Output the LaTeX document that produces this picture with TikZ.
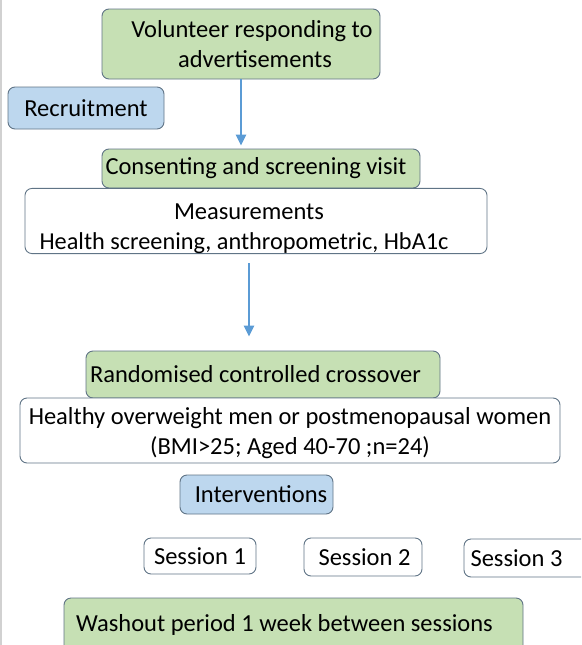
\documentclass[tikz,border=0pt]{standalone}
\usepackage{fontspec}
\setmainfont{Carlito}
\usepackage{tikz}
\usetikzlibrary{arrows.meta}

\definecolor{boxgreen}{RGB}{198,224,180}
\definecolor{boxblue}{RGB}{189,215,238}
\definecolor{boxline}{RGB}{96,116,134}
\definecolor{flowblue}{RGB}{91,155,213}

\begin{document}
\begin{tikzpicture}[x=1pt,y=-1pt,
  every node/.style = {shape=rectangle, rounded corners=7pt,
    draw=boxline, line width=0.9pt, inner sep=0pt, align=center,
    font=\fontsize{24.5}{30}\selectfont},
  stage/.style = {fill=boxgreen},
  label/.style = {fill=boxblue},
  info/.style = {fill=white},
  flow/.style = {draw=flowblue, line width=2.8pt,
    -{Triangle[width=10pt,length=11pt]}}]
  \useasboundingbox (0,0) rectangle (581,645);
  \clip (0,0) rectangle (581,645);
  \fill[black!18] (0,0) rectangle (2,645);

  \node[stage, minimum width=278, minimum height=70] (volunteer) at (241,44)
    {\hspace*{22pt}Volunteer responding to\\\hspace*{28pt}advertisements};
  \node[label, minimum width=156, minimum height=42] (recruit) at (86,108)
    {Recruitment};
  \node[stage, minimum width=318, minimum height=39] (consent) at (261,168.5)
    {Consenting and screening visit\hspace*{10pt}};
  \node[info, minimum width=462, minimum height=64] (measure) at (256,221)
    {\rule{0pt}{31pt}Measurements\hspace*{14pt}\\
     {\fontsize{24.3}{30}\selectfont Health screening, anthropometric, HbA1c}\hspace*{24pt}};
  \node[stage, minimum width=354, minimum height=47] (random) at (263,374.5)
    {Randomised controlled crossover\hspace*{15pt}};
  \node[info, minimum width=540, minimum height=65] (healthy) at (290,430.5)
    {\rule{0pt}{23pt}Healthy overweight men or postmenopausal women\\(BMI>25; Aged 40-70 ;n=24)};
  \node[label, minimum width=153, minimum height=39] (interv) at (256.5,494.5)
    {\hspace*{9pt}Interventions};
  \node[info, minimum width=112, minimum height=36] (sess1) at (200,556)
    {Session 1};
  \node[info, minimum width=118, minimum height=38] (sess2) at (363,557)
    {\hspace*{3pt}Session 2};
  \node[info, minimum width=136, minimum height=38] (sess3) at (532,558)
    {Session 3\hspace*{31pt}};
  \node[stage, minimum width=459, minimum height=62] (washout) at (293.5,629)
    {\rule[-13pt]{0pt}{0pt}Washout period 1 week between sessions\hspace*{18pt}};

  % connectors
  \coordinate (a1) at (241,0);
  \coordinate (a2) at (249,0);
  \draw[flow, shorten >=3pt] (volunteer.south -| a1) -- (consent.north -| a1);
  \draw[flow, shorten <=9pt, shorten >=14pt] (measure.south -| a2) -- (random.north -| a2);
\end{tikzpicture}
\end{document}
